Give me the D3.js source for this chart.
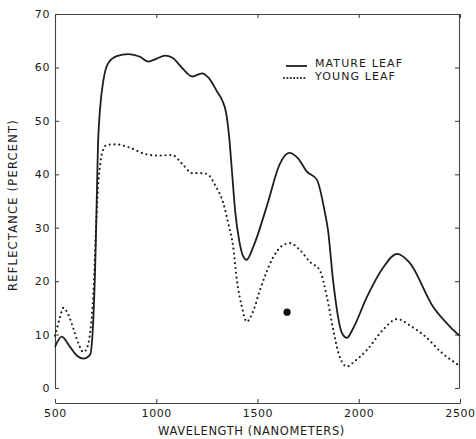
<!DOCTYPE html>
<html>
<head>
<meta charset="utf-8">
<script src="https://cdn.jsdelivr.net/npm/d3@7"></script>
<style>
  body { margin: 0; background: #fff; }
  svg text { font-family: 'DejaVu Sans', sans-serif; fill: #1a1a1a; }
</style>
</head>
<body>
<div id="chart"></div>
<script>
// reflectance curves (wavelength nm -> percent)
const matureWl = [500, 533, 574, 610, 640, 673, 689, 700, 706, 712, 722, 739, 763, 805, 862, 920, 960, 1000, 1043, 1080, 1130, 1178, 1226, 1260, 1300, 1325, 1345, 1360, 1375, 1390, 1410, 1430, 1446, 1480, 1545, 1611, 1656, 1700, 1744, 1793, 1833, 1848, 1873, 1917, 1942, 1970, 2040, 2120, 2189, 2250, 2367, 2450, 2500];
const matureR  = [7.7, 9.6, 7.7, 6.0, 5.5, 6.2, 12.7, 25, 35, 45, 52, 57.6, 60.8, 62.1, 62.5, 62.0, 61.1, 61.6, 62.2, 61.8, 59.8, 58.3, 58.9, 58.0, 55.5, 53.9, 51.5, 47, 40, 33, 27.5, 24.6, 24, 26.5, 33.9, 42, 44, 43, 40.5, 39, 32.8, 29.6, 20.2, 10.3, 9.4, 11, 17, 22.5, 25.1, 23.5, 15.2, 11.5, 9.7];

const youngWl = [500, 508, 525, 541, 566, 590, 615, 640, 660, 670, 690, 705, 715, 722, 730, 755, 800, 860, 945, 1000, 1078, 1127, 1178, 1232, 1260, 1290, 1331, 1355, 1380, 1398, 1423, 1446, 1480, 1512, 1578, 1625, 1660, 1710, 1759, 1808, 1843, 1874, 1900, 1920, 1942, 1980, 2040, 2120, 2190, 2260, 2330, 2410, 2500];
const youngR  = [9.8, 10.9, 13.3, 15, 13.7, 11.2, 8.4, 6.7, 7.7, 9.4, 18, 32, 39, 41.4, 43.6, 45.5, 45.6, 45.1, 43.8, 43.5, 43.6, 42, 40.2, 40.2, 39.8, 38, 34.6, 30.9, 26.4, 20.2, 15.2, 12.4, 14.5, 18.3, 24.5, 26.7, 27.1, 25.8, 23.6, 22, 17, 10.9, 6.5, 4.7, 4, 5, 7.1, 10.9, 12.9, 11.5, 9.6, 6.6, 4.1];

// stray dot printed on the figure
const spotWl = [1646];
const spotR = [14.2];

const xTicks = [500, 1000, 1500, 2000, 2500];
const yTicks = [0, 10, 20, 30, 40, 50, 60, 70];
const seriesNames = ['MATURE LEAF', 'YOUNG LEAF'];

const width = 476, height = 439;
const plotLeft = 55, plotRight = 460, plotTop = 14, plotBottom = 388;
const xAxisY = 403;

const svg = d3.select('#chart').append('svg')
  .attr('width', width)
  .attr('height', height);

const x = d3.scaleLinear().domain([500, 2500]).range([plotLeft, plotRight]);
const y = d3.scaleLinear().domain([0, 70]).range([plotBottom, plotTop]);

// frame axes: ticks point inward
function styleAxis(g) {
  g.selectAll('path, line').attr('stroke', '#444').attr('stroke-width', 1.1);
  g.selectAll('text')
    .style('font-family', "'DejaVu Sans', sans-serif")
    .style('font-size', '11px')
    .style('letter-spacing', '0.6px')
    .attr('fill', '#1a1a1a');
}

svg.append('g')
  .attr('transform', `translate(${plotLeft},0)`)
  .call(d3.axisLeft(y).tickValues(yTicks).tickSizeInner(-4).tickSizeOuter(0).tickPadding(5))
  .call(styleAxis);

svg.append('g')
  .attr('transform', `translate(${plotRight - 1},0)`)
  .call(d3.axisRight(y).tickValues(yTicks).tickSizeInner(-4).tickSizeOuter(0).tickFormat(''))
  .call(styleAxis);

svg.append('g')
  .attr('transform', `translate(0,${plotTop})`)
  .call(d3.axisTop(x).tickValues(xTicks).tickSizeInner(-4).tickSizeOuter(0).tickFormat(''))
  .call(styleAxis);

// detached wavelength axis under the plot
svg.append('g')
  .attr('transform', `translate(0,${xAxisY})`)
  .call(d3.axisBottom(x).tickValues(xTicks).tickFormat(d3.format('d')).tickSizeInner(-4).tickSizeOuter(0).tickPadding(6))
  .call(styleAxis);

// axis titles
svg.append('text')
  .attr('x', (plotLeft + plotRight) / 2 - 6)
  .attr('y', 435)
  .attr('text-anchor', 'middle')
  .style('font-size', '11.5px')
  .style('letter-spacing', '0.6px')
  .text('WAVELENGTH (NANOMETERS)');

svg.append('text')
  .attr('transform', 'translate(17,205) rotate(-90)')
  .attr('text-anchor', 'middle')
  .style('font-size', '11.5px')
  .style('letter-spacing', '1.2px')
  .text('REFLECTANCE (PERCENT)');

// curves
const line = d3.line()
  .x(d => x(d[0]))
  .y(d => y(d[1]))
  .curve(d3.curveMonotoneX);

const mature = matureWl.map((w, i) => [w, matureR[i]]);
const young = youngWl.map((w, i) => [w, youngR[i]]);

svg.append('path')
  .datum(mature)
  .attr('fill', 'none')
  .attr('stroke', '#1e1e1e')
  .attr('stroke-width', 1.8)
  .attr('d', line);

svg.append('path')
  .datum(young)
  .attr('fill', 'none')
  .attr('stroke', '#1e1e1e')
  .attr('stroke-width', 2.2)
  .attr('stroke-linecap', 'round')
  .attr('stroke-dasharray', '0,4.8')
  .attr('d', line);

svg.selectAll('.spot')
  .data(spotWl)
  .enter()
  .append('circle')
  .attr('class', 'spot')
  .attr('cx', d => x(d))
  .attr('cy', (d, i) => y(spotR[i]))
  .attr('r', 3.6)
  .attr('fill', '#111');

// legend
const legend = svg.append('g').attr('transform', 'translate(285,0)');
seriesNames.forEach((name, i) => {
  const ly = i === 0 ? 66 : 78;
  legend.append('line')
    .attr('x1', i === 0 ? 1 : -1).attr('x2', 22)
    .attr('y1', ly).attr('y2', ly)
    .attr('stroke', '#1e1e1e')
    .attr('stroke-width', i === 0 ? 1.8 : 2.2)
    .attr('stroke-linecap', i === 0 ? 'butt' : 'round')
    .attr('stroke-dasharray', i === 0 ? null : '0,3.4');
  legend.append('text')
    .attr('x', 30)
    .attr('y', i === 0 ? 66.5 : 79.5)
    .style('font-size', '11px')
    .style('letter-spacing', '1.1px')
    .text(name);
});
</script>
</body>
</html>
